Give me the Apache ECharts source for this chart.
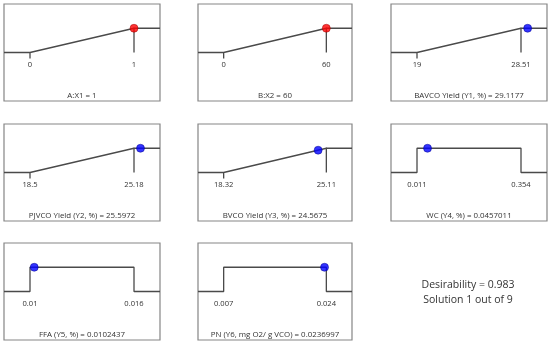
<!DOCTYPE html>
<html>
<head>
<meta charset="utf-8">
<script src="https://cdn.jsdelivr.net/npm/echarts@6/dist/echarts.min.js"></script>
<style>
html,body{margin:0;padding:0;background:#fff;}
#c{width:550px;height:346px;}
</style>
</head>
<body>
<div id="c"></div>
<script>
// ---- data ----
const titles = ['A:X1 = 1', 'B:X2 = 60', 'BAVCO Yield (Y1, %) = 29.1177', 'PJVCO Yield (Y2, %) = 25.5972',
  'BVCO Yield (Y3, %) = 24.5675', 'WC (Y4, %) = 0.0457011', 'FFA (Y5, %) = 0.0102437', 'PN (Y6, mg O2/ g VCO) = 0.0236997'];
const lows = [0, 0, 19, 18.5, 18.32, 0.011, 0.01, 0.007];
const highs = [1, 60, 28.51, 25.18, 25.11, 0.354, 0.016, 0.024];
const lowLabels = ['0', '0', '19', '18.5', '18.32', '0.011', '0.01', '0.007'];
const highLabels = ['1', '60', '28.51', '25.18', '25.11', '0.354', '0.016', '0.024'];
const values = [1, 60, 29.1177, 25.5972, 24.5675, 0.0457011, 0.0102437, 0.0236997];
const pointD = [1, 1, 1, 1, 0.92, 1, 1, 1];
const shapes = ['ramp', 'ramp', 'ramp', 'ramp', 'ramp', 'range', 'range', 'range'];
const pointColors = ['red', 'red', 'blue', 'blue', 'blue', 'blue', 'blue', 'blue'];
const summary = ['Desirability = 0.983', 'Solution 1 out of 9'];

// ---- layout ----
const colLeft = [4, 198, 391];
const colWidth = [156, 154, 156];
const rowTop = [4, 124, 243];
const gridH = 97;
const zeroFromBottom = 48.5;
const colorMap = {red: '#ff0000', blue: '#0000ff'};
const borderMap = {red: '#9a0000', blue: '#00008a'};
const FONT = 'Open Sans';

const grids = [], xAxes = [], yAxes = [], series = [];
for (let i = 0; i < titles.length; i++) {
  const r = Math.floor(i / 3), c = i % 3;
  grids.push({left: colLeft[c], top: rowTop[r], width: colWidth[c], height: gridH,
    show: true, borderColor: '#858585', borderWidth: 1.2, backgroundColor: '#fff', containLabel: false});
  const lo = lows[i], hi = highs[i], span = hi - lo;
  const xmin = lo - 0.25 * span, xmax = hi + 0.25 * span;
  xAxes.push({type: 'value', gridIndex: i, min: xmin, max: xmax, position: 'bottom', offset: -zeroFromBottom,
    axisLine: {show: false, onZero: false}, axisTick: {show: false}, splitLine: {show: false},
    axisLabel: {show: true, customValues: [lo, hi], margin: 8, fontSize: 7.6, color: '#333',
      fontFamily: FONT,
      formatter: (v) => (Math.abs(v - lo) < Math.abs(v - hi) ? lowLabels[i] : highLabels[i])},
    name: titles[i], nameLocation: 'middle', nameGap: 39.5,
    nameTextStyle: {fontSize: 7.9, color: '#333', fontFamily: FONT}
  });
  yAxes.push({type: 'value', gridIndex: i, min: -2, max: 2, show: false});
  let curve;
  if (shapes[i] === 'ramp') {
    curve = [[xmin, 0], [lo, 0], [lo, -0.25], [lo, 0], [hi, 1], [hi, 0], [hi, 1], [xmax, 1]];
  } else {
    curve = [[xmin, 0], [lo, 0], [lo, 1], [hi, 1], [hi, 0], [xmax, 0]];
  }
  series.push({type: 'line', xAxisIndex: i, yAxisIndex: i, data: curve, symbol: 'none',
    lineStyle: {color: '#4a4a4a', width: 1.3}, silent: true, animation: false});
  series.push({type: 'scatter', xAxisIndex: i, yAxisIndex: i, data: [[values[i], pointD[i]]],
    symbol: 'circle', symbolSize: 8,
    itemStyle: {color: colorMap[pointColors[i]], borderColor: borderMap[pointColors[i]], borderWidth: 0.6},
    z: 5, animation: false});
}

const chart = echarts.init(document.getElementById('c'), null, {renderer: 'canvas'});
chart.setOption({
  animation: false,
  grid: grids, xAxis: xAxes, yAxis: yAxes, series: series,
  graphic: summary.map((t, k) => ({type: 'text', x: 468, y: 285 + k * 15,
    style: {text: t, fontSize: 10.5, fill: '#333', fontFamily: FONT,
      align: 'center', verticalAlign: 'middle'}}))
});
</script>
</body>
</html>
